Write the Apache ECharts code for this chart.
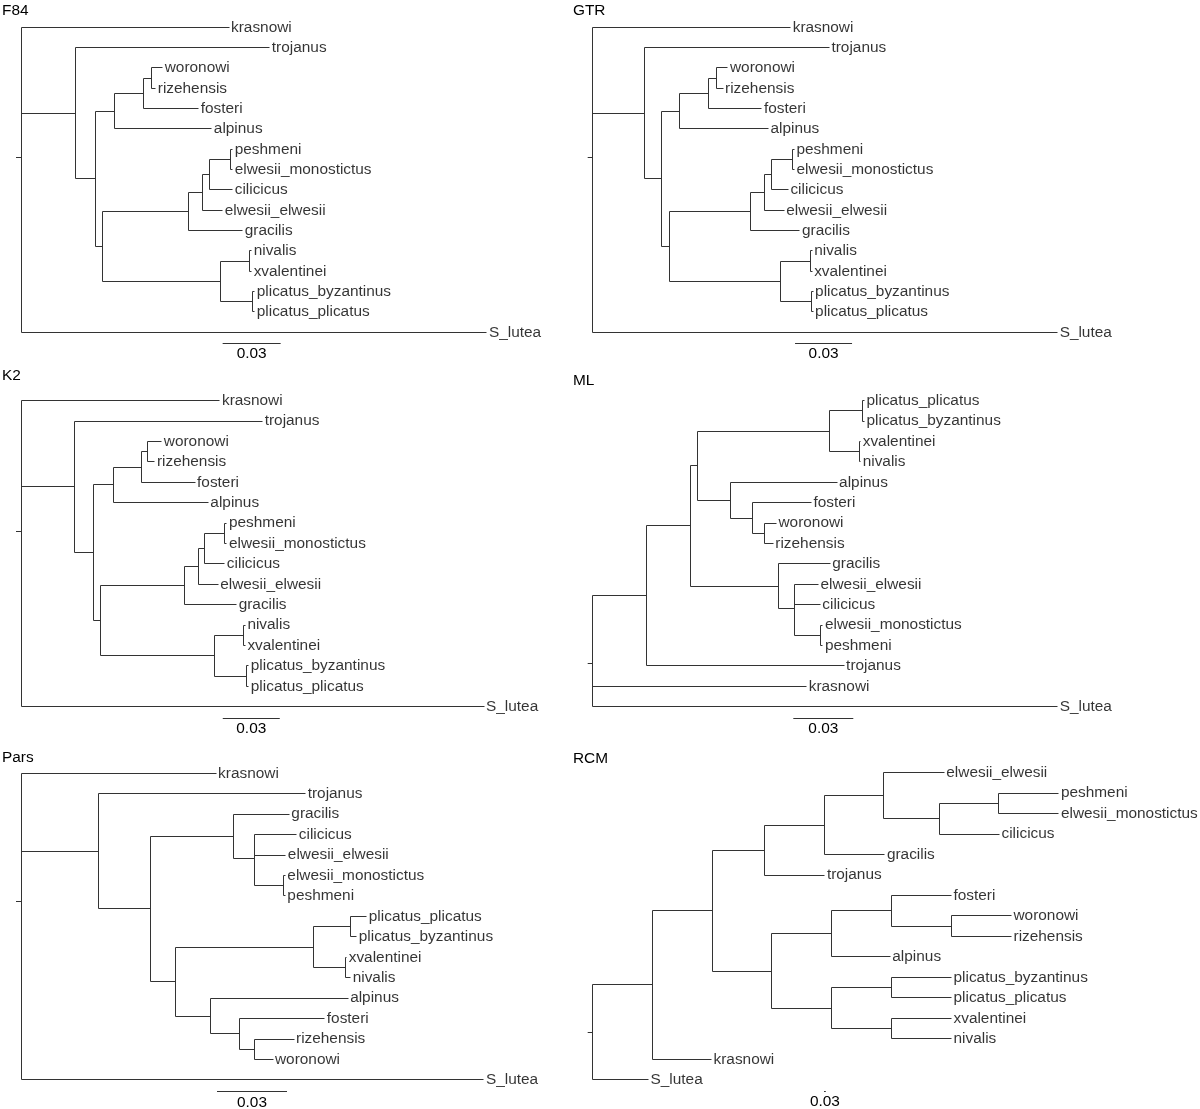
<!DOCTYPE html>
<html>
<head>
<meta charset="utf-8">
<script src="https://cdn.jsdelivr.net/npm/echarts@6/dist/echarts.min.js"></script>
<style>
  html, body { margin: 0; padding: 0; background: #fff; }
  #chart { width: 1200px; height: 1109px; }
</style>
</head>
<body>
<div id="chart"></div>
<script>
// branch lengths (substitutions / site), in newick form
const treeF84 = '(krasnowi:0.1076,(trojanus:0.1003,((((woronowi:0.0057,rizehensis:0.0021):0.0041,fosteri:0.0284):0.0150,alpinus:0.0502):0.0098,(((((peshmeni:0.0010,elwesii_monostictus:0.0010):0.0109,cilicicus:0.0119):0.0036,elwesii_elwesii:0.0103):0.0072,gracilis:0.0279):0.0445,((nivalis:0.0010,xvalentinei:0.0010):0.0150,(plicatus_byzantinus:0.0010,plicatus_plicatus:0.0010):0.0166):0.0610):0.0036):0.0103):0.0284,S_lutea:0.2410);'
const treeGTR = '(krasnowi:0.1042,(trojanus:0.0974,((((woronowi:0.0058,rizehensis:0.0032):0.0044,fosteri:0.0281):0.0153,alpinus:0.0468):0.0093,(((((peshmeni:0.0011,elwesii_monostictus:0.0011):0.0108,cilicicus:0.0087):0.0039,elwesii_elwesii:0.0104):0.0072,gracilis:0.0259):0.0430,((nivalis:0.0011,xvalentinei:0.0011):0.0153,(plicatus_byzantinus:0.0011,plicatus_plicatus:0.0011):0.0158):0.0589):0.0038):0.0092):0.0272,S_lutea:0.2447);'
const treeK2 = '(krasnowi:0.1047,(trojanus:0.0993,((((woronowi:0.0074,rizehensis:0.0038):0.0032,fosteri:0.0281):0.0149,alpinus:0.0500):0.0102,(((((peshmeni:0.0011,elwesii_monostictus:0.0011):0.0105,cilicicus:0.0105):0.0032,elwesii_elwesii:0.0102):0.0077,gracilis:0.0276):0.0440,((nivalis:0.0011,xvalentinei:0.0011):0.0153,(plicatus_byzantinus:0.0011,plicatus_plicatus:0.0011):0.0171):0.0598):0.0035):0.0105):0.0279,S_lutea:0.2437);'
const treeML = '((((((plicatus_plicatus:0.0008,plicatus_byzantinus:0.0008):0.0167,(xvalentinei:0.0008,nivalis:0.0008):0.0148):0.0658,(alpinus:0.0534,(fosteri:0.0294,(woronowi:0.0060,rizehensis:0.0044):0.0059):0.0112):0.0162):0.0039,(gracilis:0.0259,(elwesii_elwesii:0.0120,cilicicus:0.0129,(elwesii_monostictus:0.0010,peshmeni:0.0010):0.0132):0.0080):0.0442):0.0217,trojanus:0.0987):0.0270,krasnowi:0.1070,S_lutea:0.2325);'
const treePars = '(krasnowi:0.0836,(trojanus:0.0887,((gracilis:0.0240,(cilicicus:0.0182,elwesii_elwesii:0.0135,(elwesii_monostictus:0.0009,peshmeni:0.0009):0.0124):0.0090):0.0354,(((plicatus_plicatus:0.0069,plicatus_byzantinus:0.0026):0.0160,(xvalentinei:0.0004,nivalis:0.0021):0.0139):0.0590,(alpinus:0.0588,(fosteri:0.0364,(rizehensis:0.0168,woronowi:0.0078):0.0064):0.0124):0.0151):0.0107):0.0223):0.0333,S_lutea:0.1984);'
const treeRCM = '((((((elwesii_elwesii:1.02,((peshmeni:1.0,elwesii_monostictus:1.0):0.99,cilicicus:1.0):0.94):0.98,gracilis:1.01):1.0,trojanus:1.01):0.86,(((fosteri:1.0,(woronowi:1.0,rizehensis:1.0):1.0):1.0,alpinus:0.98):1.0,((plicatus_byzantinus:1.0,plicatus_plicatus:1.0):1.0,(xvalentinei:1.0,nivalis:1.0):1.0):1.0):0.98):1.0,krasnowi:0.98):1.0,S_lutea:0.93);'

const scaleLength = 0.03
const scaleText = '0.03'

// page layout: root position, row height, pixels per scale bar, scale bar place (data units)
const panels = [
  { title: 'F84', tree: treeF84, left: 21, top: 27.3, row: 20.33, barPx: 58, bar: [0.1043, 15.54], tx: 2, ty: 3 },
  { title: 'GTR', tree: treeGTR, left: 592.7, top: 27.3, row: 20.33, barPx: 57, bar: [0.1065, 15.54], tx: 573, ty: 3 },
  { title: 'K2', tree: treeK2, left: 21, top: 400.7, row: 20.4, barPx: 57, bar: [0.1062, 15.57], tx: 2, ty: 368 },
  { title: 'ML', tree: treeML, left: 592.7, top: 400.7, row: 20.4, barPx: 60, bar: [0.1003, 15.57], tx: 573, ty: 373 },
  { title: 'Pars', tree: treePars, left: 21, top: 773.3, row: 20.44, barPx: 70, bar: [0.0840, 15.58], tx: 2, ty: 750 },
  { title: 'RCM', tree: treeRCM, left: 592.7, top: 772.7, row: 20.47, barPx: 1.8, bar: [3.855, 15.58], tx: 573, ty: 751 }
]

const FONT = '"Liberation Sans", Arial, Helvetica, sans-serif'
const FONT_SIZE = 15.4
const LINE = '#333'
const GRID_W = 490

function parseNewick(s) {
  let i = 0
  function node() {
    const n = { children: [], name: '', len: 0 }
    if (s[i] === '(') {
      i++
      n.children.push(node())
      while (s[i] === ',') {
        i++
        n.children.push(node())
      }
      i++
    }
    let m = /^[^:,();]*/.exec(s.slice(i))[0]
    n.name = m
    i += m.length
    if (s[i] === ':') {
      i++
      m = /^[0-9.eE+-]+/.exec(s.slice(i))[0]
      n.len = parseFloat(m)
      i += m.length
    }
    return n
  }
  return node()
}

// rectangular phylogram: tips one row apart, nodes at the mean of their children
function layoutTree(root) {
  let tip = 0
  const segs = []
  const tips = []
  function walk(n, px) {
    n.x = px + n.len
    if (!n.children.length) {
      n.y = tip++
      tips.push({ name: n.name, value: [n.x, n.y] })
    } else {
      n.children.forEach(c => walk(c, n.x))
      n.y = n.children.reduce((a, c) => a + c.y, 0) / n.children.length
      segs.push([n.x, n.children[0].y, n.x, n.children[n.children.length - 1].y])
    }
    if (n !== root) segs.push([px, n.y, n.x, n.y])
  }
  walk(root, 0)
  return { segs, tips, rootY: root.y, nTips: tip }
}

const crisp = v => Math.round(v - 0.5) + 0.5

const chart = echarts.init(document.getElementById('chart'))
const option = {
  backgroundColor: '#fff',
  animation: false,
  title: [],
  grid: [],
  xAxis: [],
  yAxis: [],
  series: []
}

panels.forEach((p, k) => {
  const t = layoutTree(parseNewick(p.tree))
  option.title.push({
    text: p.title,
    left: p.tx,
    top: p.ty,
    padding: 0,
    textStyle: { fontSize: FONT_SIZE, fontWeight: 'normal', color: '#000', fontFamily: FONT }
  })
  option.grid.push({
    left: p.left,
    top: p.top,
    width: GRID_W,
    height: (t.nTips - 1) * p.row
  })
  option.xAxis.push({
    type: 'value',
    gridIndex: k,
    min: 0,
    max: GRID_W * scaleLength / p.barPx,
    show: false
  })
  option.yAxis.push({
    type: 'value',
    gridIndex: k,
    min: 0,
    max: t.nTips - 1,
    inverse: true,
    axisLine: { show: false },
    axisLabel: { show: false },
    splitLine: { show: false },
    axisTick: {
      show: true,
      length: 5,
      customValues: [t.rootY],
      lineStyle: { color: LINE, width: 1 }
    }
  })
  option.series.push({
    type: 'custom',
    xAxisIndex: k,
    yAxisIndex: k,
    data: t.segs,
    encode: { x: [0, 2], y: [1, 3] },
    silent: true,
    renderItem(params, api) {
      const a = api.coord([api.value(0), api.value(1)])
      const b = api.coord([api.value(2), api.value(3)])
      return {
        type: 'line',
        shape: { x1: crisp(a[0]), y1: crisp(a[1]), x2: crisp(b[0]), y2: crisp(b[1]) },
        style: { stroke: LINE, lineWidth: 1 }
      }
    }
  })
  option.series.push({
    type: 'scatter',
    xAxisIndex: k,
    yAxisIndex: k,
    symbolSize: 0,
    silent: true,
    data: t.tips,
    label: {
      show: true,
      position: 'right',
      distance: 2,
      formatter: '{b}',
      fontSize: FONT_SIZE,
      color: '#000',
      fontFamily: FONT
    }
  })
  option.series.push({
    type: 'custom',
    xAxisIndex: k,
    yAxisIndex: k,
    silent: true,
    data: [[p.bar[0], p.bar[1], p.bar[0] + scaleLength]],
    renderItem(params, api) {
      const a = api.coord([api.value(0), api.value(1)])
      const b = api.coord([api.value(2), api.value(1)])
      return {
        type: 'group',
        children: [
          {
            type: 'line',
            shape: { x1: a[0], y1: crisp(a[1]), x2: b[0], y2: crisp(a[1]) },
            style: { stroke: LINE, lineWidth: 1 }
          },
          {
            type: 'text',
            x: (a[0] + b[0]) / 2,
            y: a[1] + 3,
            style: {
              text: scaleText,
              fontSize: FONT_SIZE,
              fontFamily: FONT,
              fill: '#000',
              align: 'center',
              verticalAlign: 'top'
            }
          }
        ]
      }
    }
  })
})

chart.setOption(option)
</script>
</body>
</html>
